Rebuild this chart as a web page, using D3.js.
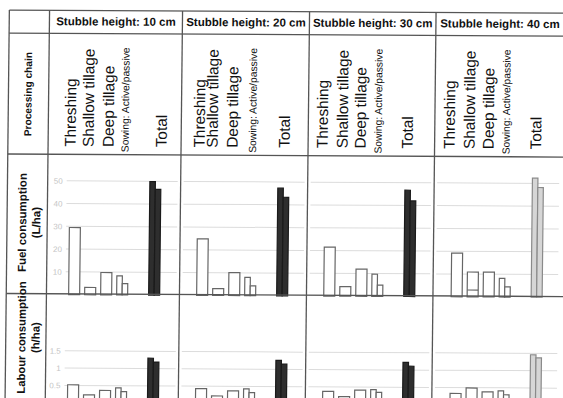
<!DOCTYPE html>
<html>
<head>
<meta charset="utf-8">
<script src="https://cdn.jsdelivr.net/npm/d3@7"></script>
<style>
  html, body { margin: 0; padding: 0; background: #fff; }
  svg { display: block; font-family: "Liberation Sans", Arial, sans-serif; }
</style>
</head>
<body>
<div id="chart"></div>
<script>
// --- data ---
const stubbleHeights = ["10 cm", "20 cm", "30 cm", "40 cm"];
const chainLabels = ["Threshing", "Shallow tillage", "Deep tillage", "Sowing: Active/passive", "Total"];
const slots = ["Threshing", "Shallow tillage", "Deep tillage", "Sowing", "gap", "Total"];

const fuelTicks = [10, 20, 30, 40, 50];
const fuelThreshing = [29.5, 24.8, 21.5, 19.2];
const fuelShallow = [3.2, 3.0, 4.2, 10.9];
const fuelShallowSplit = [null, null, null, 3];
const fuelDeep = [9.8, 10.1, 11.9, 10.9];
const fuelSowingActive = [8.4, 8.0, 9.7, 8.2];
const fuelSowingPassive = [5.0, 4.3, 4.9, 4.5];
const fuelTotalActive = [49.9, 47.3, 46.7, 52.3];
const fuelTotalPassive = [46.5, 43.3, 42.0, 48.2];

const labourTicks = [0.5, 1, 1.5];
const labourThreshing = [0.52, 0.43, 0.37, 0.33];
const labourShallow = [0.23, 0.22, 0.22, 0.49];
const labourDeep = [0.36, 0.37, 0.41, 0.38];
const labourSowingActive = [0.44, 0.43, 0.43, 0.41];
const labourSowingPassive = [0.33, 0.32, 0.35, 0.30];
const labourTotalActive = [1.30, 1.26, 1.22, 1.46];
const labourTotalPassive = [1.19, 1.15, 1.11, 1.37];

// --- layout ---
const W = 563, H = 398;
const colEdges = [7.3, 47.5, 180.5, 307.5, 434, 600];
const rowEdges = [11.6, 34.6, 155.5, 295, 440];
const barOffset = [22.2, 17.2, 17.3, 18.2];
// baseline of each rotated chain label, from the column's left edge
const labelOffsets = [
  [27.5, 45.5, 65.5, 80.5, 118.5],
  [23.5, 36.5, 56.5, 75, 108.5],
  [19.5, 39.5, 57.5, 73.5, 104.5],
  [20, 40, 59, 75, 106.5]
];
const lineColor = "#555";

const svg = d3.select("#chart").append("svg")
  .attr("width", W)
  .attr("height", H);

// the scan is slightly skewed
const root = svg.append("g")
  .attr("transform", `matrix(1,0.0055,-0.011,1,${0.011 * 199},${-0.0055 * 281})`);

const yFuel = d3.scaleLinear().domain([0, 50]).range([295.8, 182]);
const yLabour = d3.scaleLinear().domain([0, 1.5]).range([403.9, 352]);

const grid = root.append("g");
const marks = root.append("g");
const table = root.append("g");

// table lines
rowEdges.slice(0, 4).forEach(y => {
  table.append("line")
    .attr("x1", colEdges[0]).attr("x2", 600)
    .attr("y1", y).attr("y2", y)
    .attr("stroke", lineColor).attr("stroke-width", 1.3);
});
colEdges.slice(0, 5).forEach(x => {
  table.append("line")
    .attr("x1", x).attr("x2", x)
    .attr("y1", rowEdges[0]).attr("y2", 440)
    .attr("stroke", lineColor).attr("stroke-width", 1.3);
});

// row headers
const rowHead = (lines, cy, xs, size) => {
  lines.forEach((t, k) => {
    table.append("text")
      .attr("transform", `translate(${xs[k]},${cy}) rotate(-90)`)
      .attr("text-anchor", "middle")
      .attr("font-weight", "bold")
      .attr("font-size", size)
      .attr("fill", "#111")
      .text(t);
  });
};
rowHead(["Processing chain"], 95.5, [30.5], 10.2);
rowHead(["Fuel consumption", "(L/ha)"], 224, [26.5, 40.5], 11.5);
rowHead(["Labour consumption", "(h/ha)"], 339, [27, 41], 11.3);

stubbleHeights.forEach((h, i) => {
  const x0 = colEdges[i + 1], x1 = colEdges[i + 2];
  const xr = i === 3 ? 562 : x1;

  // column header
  table.append("text")
    .attr("x", (x0 + xr) / 2)
    .attr("y", 26.5)
    .attr("text-anchor", "middle")
    .attr("font-weight", "bold")
    .attr("font-size", 11.5)
    .attr("fill", "#111")
    .text("Stubble height: " + h);

  const xb = d3.scaleBand()
    .domain(slots)
    .range([x0 + barOffset[i], x0 + barOffset[i] + 91])
    .paddingInner(5 / 16)
    .paddingOuter(0);
  const bw = xb.bandwidth();

  // processing chain labels
  chainLabels.forEach((t, k) => {
    const small = k === 3;
    const lx = x0 + labelOffsets[i][k];
    marks.append("text")
      .attr("transform", `translate(${lx},${small ? 153 : 148}) rotate(-90)`)
      .attr("font-size", small ? 10.3 : 15.4)
      .attr("fill", "#111")
      .text(t);
  });

  // grid lines
  const gx1 = i === 0 ? x0 + 19 : x0 + 3;
  const gx2 = xr - 3;
  const drawGrid = (ticks, ys, fmt) => {
    ticks.forEach(v => {
      grid.append("line")
        .attr("x1", gx1).attr("x2", gx2)
        .attr("y1", ys(v)).attr("y2", ys(v))
        .attr("stroke", "#dcdcdc").attr("stroke-width", 1);
      if (i === 0) {
        grid.append("text")
          .attr("x", x0 + 15).attr("y", ys(v) + 3)
          .attr("text-anchor", "end")
          .attr("font-size", 8)
          .attr("fill", "#c4c4c4")
          .text(fmt(v));
      }
    });
  };
  drawGrid(fuelTicks, yFuel, d => d);
  drawGrid(labourTicks, yLabour, d => d);

  const totalFill = i === 3 ? "#d6d6d6" : "#2e2e2e";
  const totalStroke = i === 3 ? "#8a8a8a" : "#1a1a1a";

  const bar = (x, w, v, ys, fill, stroke) => {
    marks.append("rect")
      .attr("x", x).attr("width", w)
      .attr("y", ys(v)).attr("height", ys(0) - ys(v))
      .attr("fill", fill)
      .attr("stroke", stroke)
      .attr("stroke-width", 1.2);
  };

  const drawRow = (ys, thr, sha, dee, sowA, sowP, totA, totP, split) => {
    bar(xb("Threshing"), bw, thr[i], ys, "#fff", "#666");
    bar(xb("Shallow tillage"), bw, sha[i], ys, "#fff", "#666");
    if (split && split[i] != null) {
      marks.append("line")
        .attr("x1", xb("Shallow tillage")).attr("x2", xb("Shallow tillage") + bw)
        .attr("y1", ys(split[i])).attr("y2", ys(split[i]))
        .attr("stroke", "#666").attr("stroke-width", 1.2);
    }
    bar(xb("Deep tillage"), bw, dee[i], ys, "#fff", "#666");
    bar(xb("Sowing"), bw / 2, sowA[i], ys, "#fff", "#666");
    bar(xb("Sowing") + bw / 2, bw / 2, sowP[i], ys, "#fff", "#666");
    bar(xb("Total"), bw / 2, totA[i], ys, totalFill, totalStroke);
    bar(xb("Total") + bw / 2, bw / 2, totP[i], ys, totalFill, totalStroke);
  };

  drawRow(yFuel, fuelThreshing, fuelShallow, fuelDeep, fuelSowingActive,
    fuelSowingPassive, fuelTotalActive, fuelTotalPassive, fuelShallowSplit);
  drawRow(yLabour, labourThreshing, labourShallow, labourDeep, labourSowingActive,
    labourSowingPassive, labourTotalActive, labourTotalPassive, null);
});
</script>
</body>
</html>
